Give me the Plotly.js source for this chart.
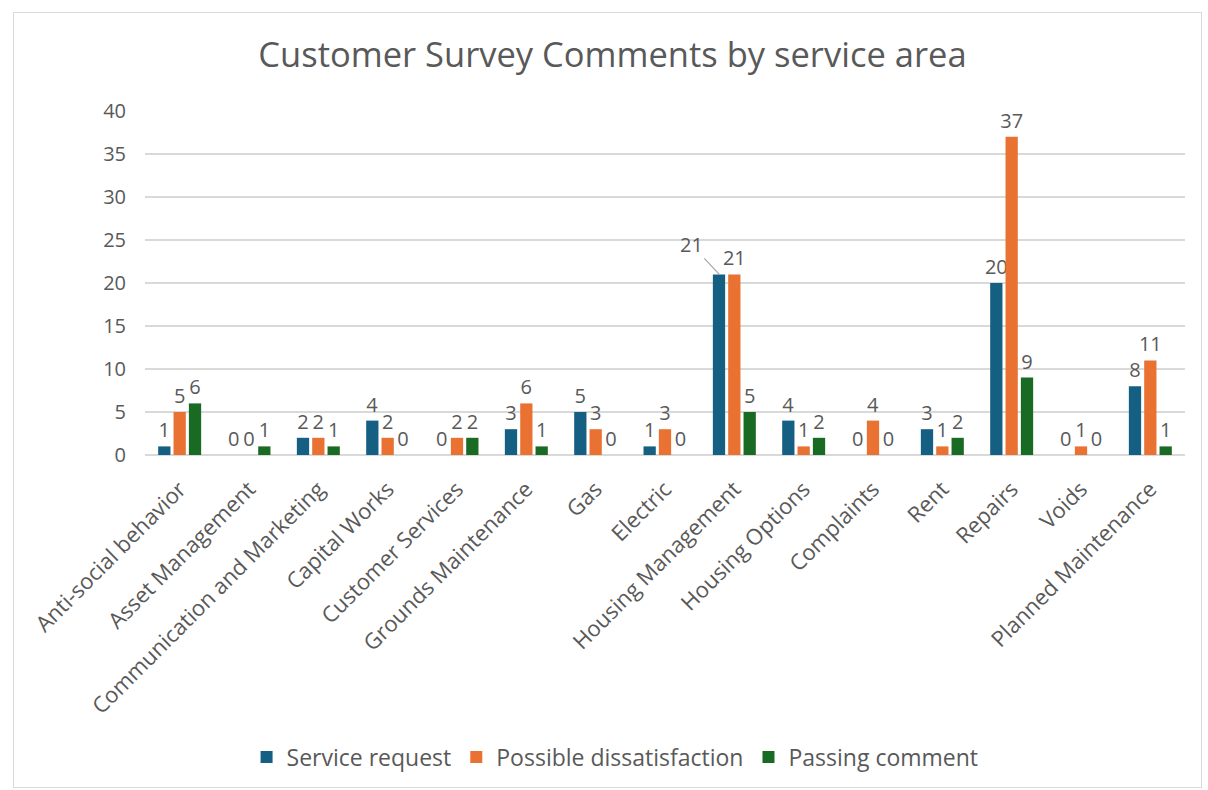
<!DOCTYPE html>
<html>
<head>
<meta charset="utf-8">
<script src="https://cdn.plot.ly/plotly-3.0.1.min.js"></script>
<style>
html,body{margin:0;padding:0;background:#fff;}
#wrap{position:relative;width:1208px;height:790px;}
#chart{position:absolute;left:0;top:0;width:1208px;height:790px;}
#frame{position:absolute;left:13px;top:12px;width:1187px;height:774px;border:1px solid #d9d9d9;pointer-events:none;}
</style>
</head>
<body>
<div id="wrap"><div id="chart"></div><div id="frame"></div></div>
<script>
const categories = ["Anti-social behavior","Asset Management","Communication and Marketing","Capital Works","Customer Services","Grounds Maintenance","Gas","Electric","Housing Management","Housing Options","Complaints","Rent","Repairs","Voids","Planned Maintenance"];
const serviceRequest = [1,0,2,4,0,3,5,1,21,4,0,3,20,0,8];
const possibleDissatisfaction = [5,0,2,2,2,6,3,3,21,1,4,1,37,1,11];
const passingComment = [6,1,1,0,2,1,0,0,5,2,0,2,9,0,1];
const seriesNames = ["Service request","Possible dissatisfaction","Passing comment"];
const seriesColors = ["#156082","#E97132","#196B24"];

const font = "Open Sans, Liberation Sans, sans-serif";
const txtColor = "#595959";
const allSeries = [serviceRequest, possibleDissatisfaction, passingComment];

// Housing Management service-request label is drawn with a leader line
const leaderIdx = categories.indexOf("Housing Management");

const traces = allSeries.map((vals, s) => ({
  type: "bar",
  name: seriesNames[s],
  x: categories,
  y: vals,
  text: vals.map((v, i) => (s === 0 && i === leaderIdx) ? "" : String(v)),
  textposition: "outside",
  constraintext: "none",
  cliponaxis: false,
  textfont: {family: font, size: 20, color: txtColor},
  marker: {color: seriesColors[s], line: {width: 0}},
  hoverinfo: "x+y+name"
}));

const layout = {
  width: 1208, height: 790,
  margin: {l: 145, r: 23, t: 111, b: 335},
  paper_bgcolor: "#ffffff", plot_bgcolor: "#ffffff",
  title: {text: "Customer Survey Comments by service area", font: {family: font, size: 34.5, color: txtColor}, x: 0.507, xanchor: "center", y: 0.93, yanchor: "middle"},
  barmode: "group",
  bargap: 0.336,
  bargroupgap: 0.2,
  font: {family: font, color: txtColor, size: 19},
  xaxis: {
    type: "category",
    tickangle: -45,
    tickfont: {family: font, size: 22, color: txtColor},
    showgrid: false, showline: false, ticks: "",
    ticklabelstandoff: 16,
    automargin: false
  },
  yaxis: {
    range: [0, 40],
    dtick: 5,
    tickfont: {family: font, size: 20, color: txtColor},
    gridcolor: "#d9d9d9", gridwidth: 1.5,
    zeroline: true, zerolinecolor: "#d9d9d9", zerolinewidth: 1.5,
    showline: false, ticks: "",
    ticklabelstandoff: 18,
    automargin: false
  },
  showlegend: true,
  legend: {
    orientation: "h", x: 0.452, xanchor: "center", y: -0.878, yanchor: "middle",
    font: {family: font, size: 23, color: txtColor},
    itemwidth: 30, traceorder: "normal"
  },
  annotations: [{
    x: categories[leaderIdx], y: serviceRequest[leaderIdx],
    xref: "x", yref: "y", xshift: -15,
    text: String(serviceRequest[leaderIdx]),
    showarrow: true, arrowhead: 0, arrowwidth: 1.2, arrowcolor: "#a6a6a6",
    ax: -28, ay: -30, standoff: 0,
    font: {family: font, size: 20, color: txtColor}
  }]
};

Plotly.newPlot("chart", traces, layout, {displayModeBar: false, staticPlot: true});
</script>
</body>
</html>
